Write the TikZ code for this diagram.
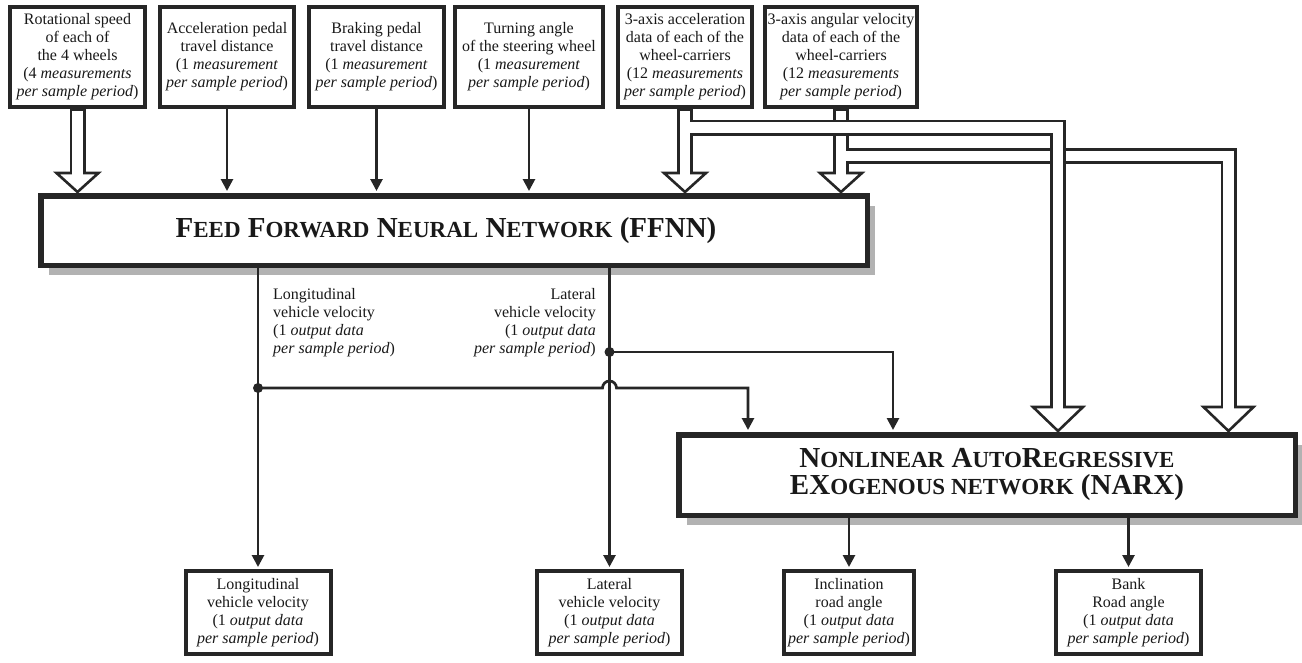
\documentclass[tikz,border=0pt]{standalone}
\usepackage{fontspec}
\setmainfont{Liberation Serif}
\usetikzlibrary{arrows.meta,calc,shadows}
\newcommand{\smc}[1]{{\fontsize{23}{27}\selectfont #1}}
\newcommand{\hollowhead}[3]{\draw[hollow] (#1) -- ++(-#2,-#3) -- ++(2*#2,0) -- cycle;}
\begin{document}
\begin{tikzpicture}[x=1pt,y=-1pt,>={Triangle[length=12pt,width=12pt]},
    font=\fontsize{16}{18}\selectfont,text=black!90,
    inbox/.style={draw=black!85,line width=4pt,fill=white,align=center,inner sep=0pt,
      minimum width=#1,minimum height=100pt},
    outbox/.style={inbox=#1,minimum height=83pt},
    netbox/.style={draw=black!85,line width=5.5pt,fill=white,align=center,inner sep=0pt,
      font=\fontsize{29}{27}\selectfont\bfseries,
      drop shadow={shadow xshift=8pt,shadow yshift=-10pt,fill=black!30,opacity=1}},
    conn/.style={draw=black!85,line width=2.7pt,->,shorten >=2pt},
    pipeout/.style={draw=black!85,line width=16pt},
    pipein/.style={draw=white,line width=10.5pt},
    hollow/.style={draw=black!85,line width=2.6pt,fill=white},
    dot/.style={fill=black!85}
  ]
  \useasboundingbox (0,0) rectangle (1302,662);

  \node[inbox=135pt] (speed) at (77.5,57) {Rotational speed\\of each of\\the 4 wheels\\(4 \textit{measurements}\\\textit{per sample period})};
  \node[inbox=134pt] (accel) at (227,57) {Acceleration pedal\\travel distance\\(1 \textit{measurement}\\\textit{per sample period})};
  \node[inbox=135pt] (brake) at (376.5,57) {Braking pedal\\travel distance\\(1 \textit{measurement}\\\textit{per sample period})};
  \node[inbox=148pt] (steer) at (529,57) {Turning angle\\of the steering wheel\\(1 \textit{measurement}\\\textit{per sample period})};
  \node[inbox=134pt] (acc3) at (685,57) {3-axis acceleration\\data of each of the\\wheel-carriers\\(12 \textit{measurements}\\\textit{per sample period})};
  \node[inbox=152pt] (gyr3) at (841,57) {3-axis angular velocity\\data of each of the\\wheel-carriers\\(12 \textit{measurements}\\\textit{per sample period})};

  \node[netbox,minimum width=826.5pt,minimum height=69.5pt] (ffnn) at (454,230.5)
    {F\smc{EED} F\smc{ORWARD} N\smc{EURAL} N\smc{ETWORK} (FFNN)\hspace*{16pt}};
  \node[netbox,minimum width=616.5pt,minimum height=80.5pt] (narx) at (987,475)
    {N\smc{ONLINEAR} A\smc{UTO}R\smc{EGRESSIVE}\\EX\smc{OGENOUS NETWORK} (NARX)};

  \node[outbox=145pt] (longout) at (258,612.5) {Longitudinal\\vehicle velocity\\(1 \textit{output data}\\\textit{per sample period})};
  \node[outbox=145pt] (latout) at (609.5,612.5) {Lateral\\vehicle velocity\\(1 \textit{output data}\\\textit{per sample period})};
  \node[outbox=130pt] (inclout) at (849,612.5) {Inclination\\road angle\\(1 \textit{output data}\\\textit{per sample period})};
  \node[outbox=145pt] (bankout) at (1128.5,612.5) {Bank\\Road angle\\(1 \textit{output data}\\\textit{per sample period})};

  \node[align=left,anchor=north west,inner sep=0pt] (longlbl) at (273,288) {Longitudinal\\vehicle velocity\\(1 \textit{output data}\\\textit{per sample period})};
  \node[align=right,anchor=north east,inner sep=0pt] (latlbl) at (596,288) {Lateral\\vehicle velocity\\(1 \textit{output data}\\\textit{per sample period})};

  \coordinate (speedtip) at (speed |- 0,192);
  \coordinate (acc3tip) at (acc3 |- 0,192);
  \coordinate (gyr3tip) at (gyr3 |- 0,192);
  \coordinate (acc3bend) at (1058,127.5);
  \coordinate (gyr3bend) at (1228.5,156);
  \coordinate (acc3tip2) at (acc3bend |- 0,431);
  \coordinate (gyr3tip2) at (gyr3bend |- 0,431);

  \draw[pipeout] (speed.south) -- (speed |- 0,173);
  \hollowhead{speedtip}{21}{19}
  \draw[pipein,shorten <=2pt] (speed.south) -- (speed |- 0,174.8);

  \draw[pipeout] (gyr3.south) -- (gyr3 |- 0,173);
  \draw[pipeout] (gyr3 |- gyr3bend) -- (gyr3bend) -- (gyr3bend |- 0,407);
  \hollowhead{gyr3tip}{21}{19}
  \hollowhead{gyr3tip2}{25}{24}
  \draw[pipein,shorten <=2pt] (gyr3.south) -- (gyr3 |- 0,174.8);
  \draw[pipein] (gyr3 |- gyr3bend) -- (gyr3bend) -- (gyr3bend |- 0,408.8);

  \draw[pipeout] (acc3.south) -- (acc3 |- 0,173);
  \draw[pipeout] (acc3 |- acc3bend) -- (acc3bend) -- (acc3bend |- 0,407);
  \hollowhead{acc3tip}{21}{19}
  \hollowhead{acc3tip2}{25}{24}
  \draw[pipein,shorten <=2pt] (acc3.south) -- (acc3 |- 0,174.8);
  \draw[pipein] (acc3 |- acc3bend) -- (acc3bend) -- (acc3bend |- 0,408.8);

  \draw[conn] (accel.south) -- (accel |- ffnn.north);
  \draw[conn] (brake.south) -- (brake |- ffnn.north);
  \draw[conn] (steer.south) -- (steer |- ffnn.north);

  \draw[conn] (ffnn.south -| longout) -- (longout.north);
  \draw[conn] (ffnn.south -| latout) -- (latout.north);

  \coordinate (longjn) at (longout |- 0,388);
  \coordinate (latjn) at (latout |- 0,352);
  \coordinate (longin) at (748,0 |- narx.north);
  \coordinate (latin) at (893,0 |- narx.north);

  \draw[conn] (latjn) -| (latin);
  \draw[conn] (longjn) -- ($(longjn -| latout)+(-7,0)$) arc[start angle=180,end angle=0,radius=7pt] -| (longin);
  \fill[dot] (longjn) circle[radius=5pt];
  \fill[dot] (latjn) circle[radius=5pt];

  \draw[conn] (narx.south -| inclout) -- (inclout.north);
  \draw[conn] (narx.south -| bankout) -- (bankout.north);
\end{tikzpicture}
\end{document}
